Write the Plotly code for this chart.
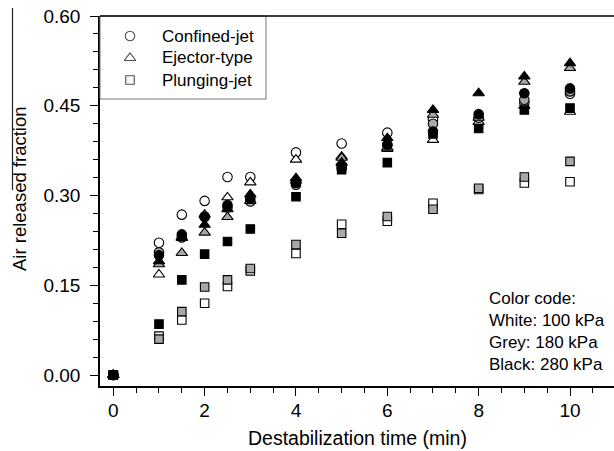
import plotly.graph_objects as go

# ---------------- data ----------------
times = [0, 1, 1.5, 2, 2.5, 3, 4, 5, 6, 7, 8, 9, 10]

confined_white = [0, 0.221, 0.268, 0.291, 0.331, 0.331, 0.372, 0.387, 0.405, 0.427, 0.429, 0.455, 0.470]
confined_grey  = [0, 0.205, 0.230, 0.265, 0.280, 0.290, 0.318, 0.345, 0.385, 0.420, 0.430, 0.460, 0.474]
confined_black = [0, 0.200, 0.235, 0.264, 0.284, 0.295, 0.321, 0.350, 0.385, 0.407, 0.436, 0.471, 0.479]

ejector_white = [0, 0.168, 0.230, 0.268, 0.297, 0.322, 0.360, 0.365, 0.378, 0.393, 0.423, 0.450, 0.440]
ejector_grey  = [0, 0.185, 0.204, 0.238, 0.264, 0.291, 0.325, 0.363, 0.380, 0.435, 0.430, 0.490, 0.513]
ejector_black = [0, 0.190, 0.229, 0.251, 0.277, 0.302, 0.329, 0.355, 0.396, 0.443, 0.471, 0.499, 0.521]

plunging_white = [0, 0.065, 0.092, 0.120, 0.148, 0.174, 0.203, 0.252, 0.257, 0.287, 0.310, 0.321, 0.323]
plunging_grey  = [0, 0.060, 0.106, 0.147, 0.159, 0.178, 0.218, 0.237, 0.265, 0.277, 0.312, 0.331, 0.357]
plunging_black = [0, 0.085, 0.159, 0.202, 0.223, 0.244, 0.298, 0.343, 0.355, 0.403, 0.412, 0.443, 0.446]

legend_names = ["Confined-jet", "Ejector-type", "Plunging-jet"]
color_code_lines = ["Color code:", "White: 100 kPa", "Grey: 180 kPa", "Black: 280 kPa"]
y_ticks = [0.00, 0.15, 0.30, 0.45, 0.60]
x_ticks = [0, 2, 4, 6, 8, 10]

# ---------------- layout helpers ----------------
W, H = 614, 451
L, T, R, B = 100, 16, 0, 65
PW, PH = W - L - R, H - T - B
FONT = "Liberation Sans, Arial, sans-serif"


def px(x):
    return (x - L) / PW


def py(y):
    return (H - B - y) / PH


FILL = {"white": "#ffffff", "grey": "#a8a8a8", "black": "#000000"}
SYM = {"circle": ("circle", 9.5), "tri": ("triangle-up", 10), "sq": ("square", 8.5)}

series = [
    ("circle", "white", confined_white), ("tri", "white", ejector_white), ("sq", "white", plunging_white),
    ("circle", "grey", confined_grey), ("tri", "grey", ejector_grey), ("sq", "grey", plunging_grey),
    ("circle", "black", confined_black), ("tri", "black", ejector_black), ("sq", "black", plunging_black),
]

fig = go.Figure()
for sym, col, vals in series:
    s, size = SYM[sym]
    fig.add_trace(go.Scatter(
        x=times, y=vals, mode="markers", showlegend=False, hoverinfo="skip",
        marker=dict(symbol=s, size=size, color=FILL[col],
                    line=dict(color="#000000", width=1.1)),
    ))

# legend markers on an invisible overlay axis in paper-like units
leg_rows = [36, 58, 80]
fig.add_trace(go.Scatter(
    x=[px(130)] * 3, y=[py(r) for r in leg_rows], xaxis="x2", yaxis="y2",
    mode="markers", showlegend=False, hoverinfo="skip",
    marker=dict(symbol=["circle", "triangle-up", "square"], size=[9.5, 10, 8.5],
                color="white", line=dict(color="black", width=1.1)),
))

annotations = []
for name, r in zip(legend_names, leg_rows):
    annotations.append(dict(x=px(160), y=py(r), xref="paper", yref="paper", text=name,
                            showarrow=False, xanchor="left", yanchor="middle",
                            font=dict(family=FONT, size=17, color="black")))
for i, line in enumerate(color_code_lines):
    annotations.append(dict(x=px(487), y=py(298 + 22 * i), xref="paper", yref="paper", text=line,
                            showarrow=False, xanchor="left", yanchor="middle",
                            font=dict(family=FONT, size=17, color="black")))
annotations.append(dict(x=px(19), y=py(189), xref="paper", yref="paper",
                        text="Air released fraction", textangle=-90, showarrow=False,
                        xanchor="center", yanchor="middle",
                        font=dict(family=FONT, size=18.5, color="black")))
annotations.append(dict(x=0.5, y=py(438), xref="paper", yref="paper",
                        text="Destabilization time (min)", showarrow=False,
                        xanchor="center", yanchor="middle",
                        font=dict(family=FONT, size=19.5, color="black")))

shapes = [
    # legend box
    dict(type="rect", xref="paper", yref="paper", x0=0, x1=px(266), y0=py(99), y1=1,
         line=dict(color="#777777", width=1), fillcolor="rgba(0,0,0,0)"),
    # top frame line
    dict(type="line", xref="paper", yref="paper", x0=0, x1=1, y0=1, y1=1,
         line=dict(color="black", width=1.5)),
    # stray vertical line near the y title
    dict(type="line", xref="paper", yref="paper", x0=px(12.5), x1=px(12.5), y0=py(8), y1=py(190),
         line=dict(color="#222222", width=1.2), layer="above"),
]

fig.update_layout(
    width=W, height=H,
    margin=dict(l=L, r=R, t=T, b=B, pad=0),
    paper_bgcolor="white", plot_bgcolor="white",
    font=dict(family=FONT, size=18, color="black"),
    annotations=annotations, shapes=shapes,
    xaxis=dict(
        range=[(L - 113.3) / 45.67, (W - 113.3) / 45.67],
        tickmode="array", tickvals=x_ticks, ticktext=[str(v) for v in x_ticks],
        ticks="outside", ticklen=8, tickwidth=1.2, tickcolor="black",
        minor=dict(dtick=0.5, tick0=0, ticks="outside", ticklen=5, tickwidth=1, tickcolor="black", showgrid=False),
        showline=True, linecolor="black", linewidth=1.5,
        showgrid=False, zeroline=False, ticklabelstandoff=-2,
        tickfont=dict(family=FONT, size=19, color="black"),
    ),
    yaxis=dict(
        range=[(375 - 386) / 598.3, 0.6],
        tickmode="array", tickvals=y_ticks, ticktext=[f"{v:.2f}" for v in y_ticks],
        ticks="outside", ticklen=8, tickwidth=1.2, tickcolor="black",
        minor=dict(dtick=0.03, tick0=0, ticks="outside", ticklen=5, tickwidth=1, tickcolor="black", showgrid=False),
        showline=True, linecolor="black", linewidth=1.5,
        showgrid=False, zeroline=False, ticklabelstandoff=6,
        tickfont=dict(family=FONT, size=19, color="black"),
    ),
    xaxis2=dict(overlaying="x", range=[0, 1], visible=False, fixedrange=True),
    yaxis2=dict(overlaying="y", range=[0, 1], visible=False, fixedrange=True),
)

fig.write_html("out.html", config={"displayModeBar": False},
               post_script="document.body.style.margin='0';document.body.style.overflow='hidden';")
